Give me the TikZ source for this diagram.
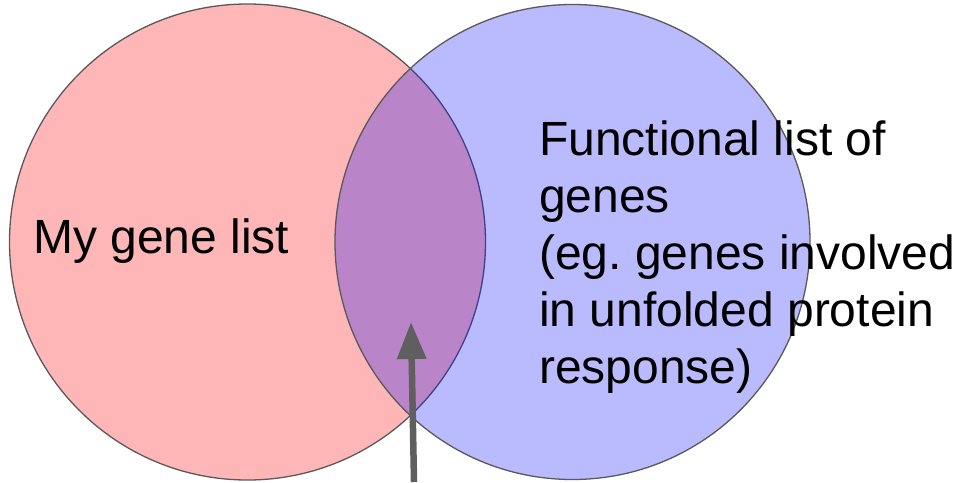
\documentclass[tikz,border=0pt]{standalone}
\usepackage{fontspec}
\setmainfont{Liberation Sans}
\usetikzlibrary{arrows.meta}
\frenchspacing
\definecolor{setred}{RGB}{255,182,182}
\definecolor{rim}{RGB}{89,89,89}
\definecolor{pointer}{RGB}{95,95,95}
\tikzset{
  setcircle/.style={draw=rim, line width=1.3pt},
  label/.style={inner sep=0pt, font=\fontsize{48}{57}\selectfont, text=black},
}
\begin{document}
\begin{tikzpicture}[x=1pt, y=-1pt]
  \useasboundingbox (0,0) rectangle (955,482);
  % the two sets; the second one is translucent so the overlap shows through
  \node[setcircle, circle, minimum size=476pt, fill=setred, inner sep=0pt] (mine) at (247.5,242) {};
  \node[setcircle, circle, minimum size=475pt, fill=blue, fill opacity=0.27, inner sep=0pt] (func) at (572.5,242) {};
  % set labels (base of a multi-line node is its last line)
  \node[label, anchor=base west] (minetext) at (33,253) {My gene list};
  \node[label, anchor=base west, align=left] (functext) at (539,383)
    {Functional list of\\genes\\(eg. genes involved\\in unfolded protein\\response)};
  % pointer into the intersection
  \coordinate (tail) at (414,482);
  \coordinate (tip) at (411,322);
  \draw[pointer, line width=6.5pt, -{Triangle[length=37pt, width=28pt]}] (tail) -- (tip);
\end{tikzpicture}
\end{document}
